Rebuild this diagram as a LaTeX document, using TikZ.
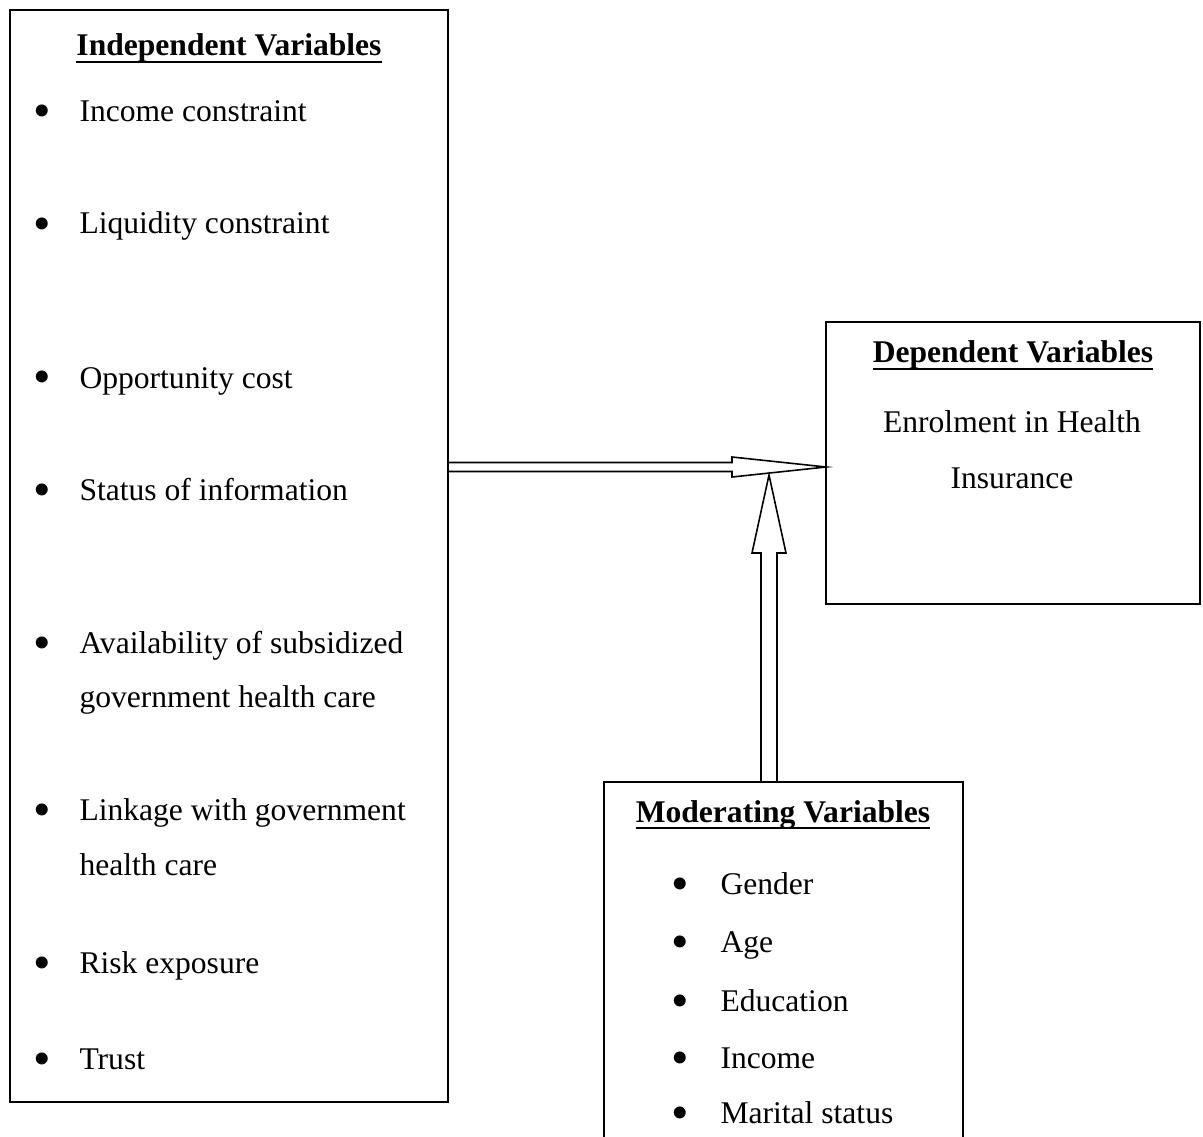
\documentclass[tikz,border=0pt]{standalone}
\usepackage{fontspec}
\setmainfont{Liberation Serif}
\usetikzlibrary{calc}

% bold heading with a low, thick underline
\newcommand{\ulhead}[1]{\setbox0\hbox{\bfseries #1}\rlap{\rule[-2.8pt]{\wd0}{1pt}}\box0}

\begin{document}
\begin{tikzpicture}[x=0.38pt,y=-0.38pt,
    box/.style={draw,line width=0.8pt,inner sep=0pt,outer sep=0pt},
    item/.style={anchor=base west,inner sep=0pt,font=\fontsize{12}{14}\selectfont},
    dot/.style={anchor=base,inner sep=0pt,font=\fontsize{19}{22}\selectfont},
    head/.style={anchor=base,inner sep=0pt,font=\fontsize{12}{14}\selectfont},
    blockarrow/.style={line width=0.6pt,line join=miter}]
  \useasboundingbox (0,0) rectangle (1203,1137);
  \clip (0,0) rectangle (1203,1137);

  % boxes
  \node[box,minimum width=166.44pt,minimum height=414.96pt] (indep) at (229,556) {};
  \node[box,minimum width=142.12pt,minimum height=107.16pt] (dep) at (1013,463) {};
  \node[box,minimum width=136.42pt,minimum height=151.24pt] (moder) at (783.5,981) {};

  % independent variables
  \node[head] (indepHead) at (229,56) {\ulhead{Independent Variables}};
  \foreach \y/\txt [count=\i] in {122/Income constraint,234/Liquidity constraint,
      388/Opportunity cost,500/Status of information,653/Availability of subsidized,
      820/Linkage with government,973/Risk exposure,1069/Trust} {
    \node[dot] (ib\i) at (42,\y+6) {\textbullet};
    \node[item] (iv\i) at (79,\y) {\txt};
  }
  \node[item] (iv5b) at (79,707) {government health care};
  \node[item] (iv6b) at (79,875) {health care};

  % dependent variable
  \node[head] (depHead) at (1013,363) {\ulhead{Dependent Variables}};
  \node[head] (enrol) at (1012,432) {Enrolment in Health};
  \node[head] (insur) at (1012,488) {Insurance};

  % moderating variables
  \node[head] (moderHead) at (783,822) {\ulhead{Moderating Variables}};
  \foreach \y/\txt [count=\i] in {894/Gender,952/Age,1011/Education,1068/Income,1123/Marital status} {
    \node[dot] (mb\i) at (680,\y+6) {\textbullet};
    \node[item] (mv\i) at (720,\y) {\txt};
  }

  % hollow arrows
  \coordinate (hTip) at ($(dep.west)+(0,4)$);
  \coordinate (vTip) at (769,475);
  \draw[blockarrow] ($(indep.east |- hTip)+(0,-4.5)$) -- ($(hTip)+(-94,-4.5)$)
    -- ($(hTip)+(-94,-10)$) -- (hTip) -- ($(hTip)+(-94,10)$)
    -- ($(hTip)+(-94,4.5)$) -- ($(indep.east |- hTip)+(0,4.5)$);
  \draw[blockarrow] ($(vTip |- moder.north)+(-8,0)$) -- ($(vTip)+(-8,78)$)
    -- ($(vTip)+(-17,78)$) -- (vTip) -- ($(vTip)+(17,78)$)
    -- ($(vTip)+(8,78)$) -- ($(vTip |- moder.north)+(8,0)$);
\end{tikzpicture}
\end{document}
